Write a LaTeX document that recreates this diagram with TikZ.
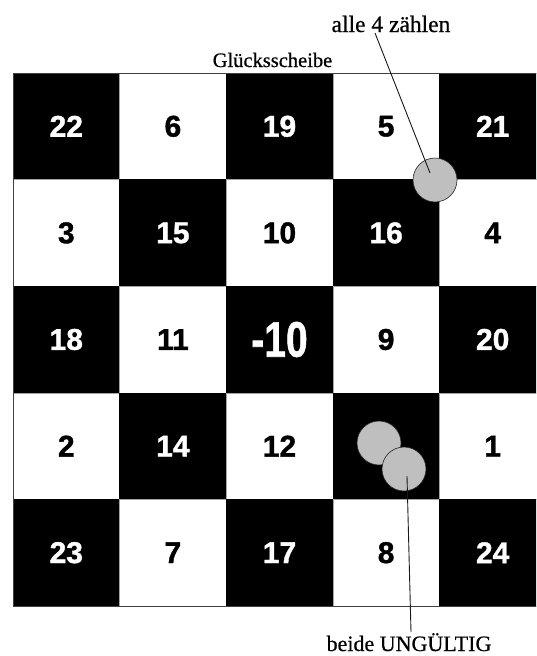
\documentclass[tikz,border=0pt]{standalone}
\usepackage{fontspec}
\newfontface\numfont{Liberation Sans Bold}[FakeBold=1.2]
\newfontface\lblfont{Liberation Serif}[FakeBold=0.6]
\definecolor{coin}{HTML}{BFBFBF}
\begin{document}
\begin{tikzpicture}[x=1pt,y=-1pt,
  cellw/.style={fill=white,draw=black!35,line width=0.4pt},
  cellb/.style={fill=black,draw=black,line width=0.4pt},
  numw/.style={text=black,font=\numfont\fontsize{30}{32}\selectfont},
  numb/.style={text=white,font=\numfont\fontsize{30}{32}\selectfont},
  lbl/.style={inner sep=0pt},
  coinc/.style={circle,fill=coin,draw=black!85,line width=0.6pt,minimum size=44pt,inner sep=0pt},
  pointer/.style={draw=black!90,line width=0.9pt}]
\useasboundingbox (0,0) rectangle (536,656);
\clip (0,0) rectangle (536,656);
\fill[white] (0,0) rectangle (536,656);
\def\cw{106.6}
\foreach \row/\list in {0/{22,6,19,5,21},1/{3,15,10,16,4},2/{18,11,{},9,20},3/{2,14,12,{},1},4/{23,7,17,8,24}}{
  \foreach \v [count=\ci from 0] in \list {
    \pgfmathtruncatemacro{\pty}{mod(\row+\ci,2)}
    \pgfmathsetmacro{\xa}{13+\cw*\ci}
    \pgfmathsetmacro{\ya}{73+\cw*\row}
    \ifnum\pty=0
      \path[cellb] (\xa,\ya) rectangle ++(\cw,\cw);
      \node[numb] (n-\row-\ci) at (\xa+\cw/2,\ya+\cw/2) {\v};
    \else
      \path[cellw] (\xa,\ya) rectangle ++(\cw,\cw);
      \node[numw] (n-\row-\ci) at (\xa+\cw/2,\ya+\cw/2) {\v};
    \fi
  }
}
\node[text=white,font=\numfont\fontsize{50}{52}\selectfont,xscale=0.78] (minus) at (13+2.5*\cw,73+2.5*\cw) {-10};
\draw[black!75,line width=0.8pt] (13,73) rectangle (13+5*\cw,73+5*\cw);
% labels
\node[lbl,anchor=base,font=\lblfont\fontsize{20.5}{23}\selectfont] (title) at (272.5,67) {Glücksscheibe};
\node[lbl,anchor=base,font=\lblfont\fontsize{23.5}{26}\selectfont] (alle) at (391,32) {alle 4 zählen};
\node[lbl,anchor=base,font=\lblfont\fontsize{22}{25}\selectfont] (beide) at (409,651) {beide UNGÜLTIG};
% coins
\node[coinc] (ctop) at (435,180) {};
\node[coinc] (c1) at (379,443) {};
\node[coinc] (c2) at (404,469) {};
% pointers
\coordinate (a1) at (375,33);
\coordinate (a2) at (430,173);
\coordinate (b1) at (407,476);
\coordinate (b2) at (411,632);
\draw[pointer] (a1) -- (a2);
\draw[pointer] (b1) -- (b2);
\end{tikzpicture}
\end{document}
